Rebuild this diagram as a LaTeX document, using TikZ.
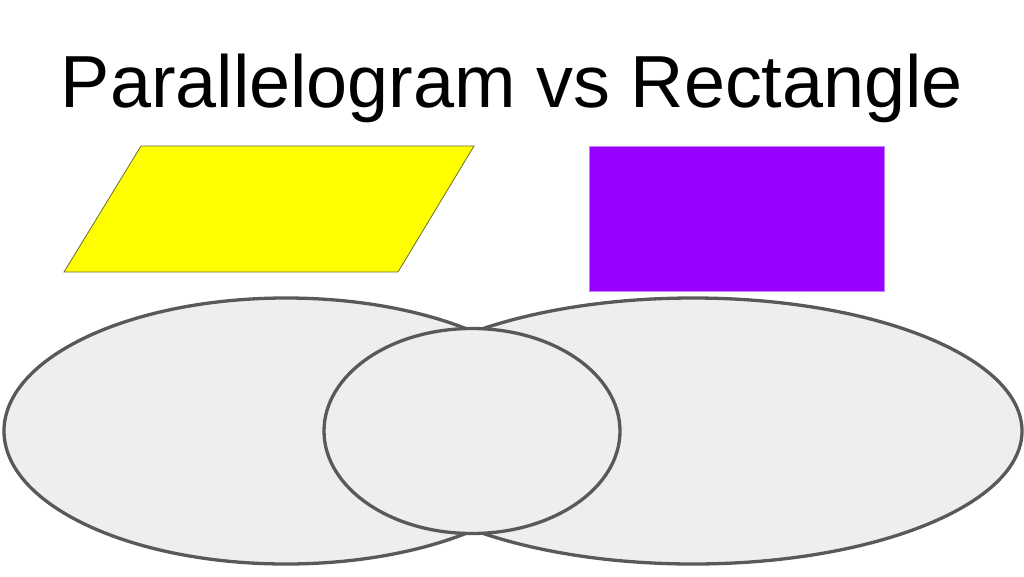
\documentclass[tikz,border=0pt]{standalone}
\usepackage{fontspec}
\setmainfont{Liberation Sans}
\definecolor{ringgray}{HTML}{595959}
\definecolor{ringfill}{HTML}{EEEEEE}
\definecolor{paryellow}{HTML}{FFFF00}
\definecolor{parline}{HTML}{6B6B3A}
\definecolor{rectpurple}{HTML}{9900FF}
\definecolor{rectline}{HTML}{C080FF}
\begin{document}
\begin{tikzpicture}[x=1pt,y=-1pt,
  ring/.style={draw=ringgray,fill=ringfill,line width=3.3pt},
  titletext/.style={font=\fontsize{73.8}{80}\selectfont,inner sep=0pt,anchor=base}]
\useasboundingbox (0,0) rectangle (1024,576);
\begin{scope}
\clip (0,0) rectangle (1024,576);
% title
\node[titletext] (title) at (512,107) {Parallelogram vs Rectangle};
% parallelogram
\draw[fill=paryellow,draw=parline,line width=0.8pt]
  (141,146) -- (474,146) -- (398,272) -- (64,272) -- cycle;
% rectangle
\draw[fill=rectpurple,draw=rectline,line width=0.8pt]
  (589.5,146) rectangle (884,291);
% ellipses
\draw[ring] (286,431) ellipse [x radius=282,y radius=133];
\draw[ring] (693,431) ellipse [x radius=329,y radius=133];
\draw[ring] (472,431) ellipse [x radius=148,y radius=102.5];
\end{scope}
\end{tikzpicture}
\end{document}
